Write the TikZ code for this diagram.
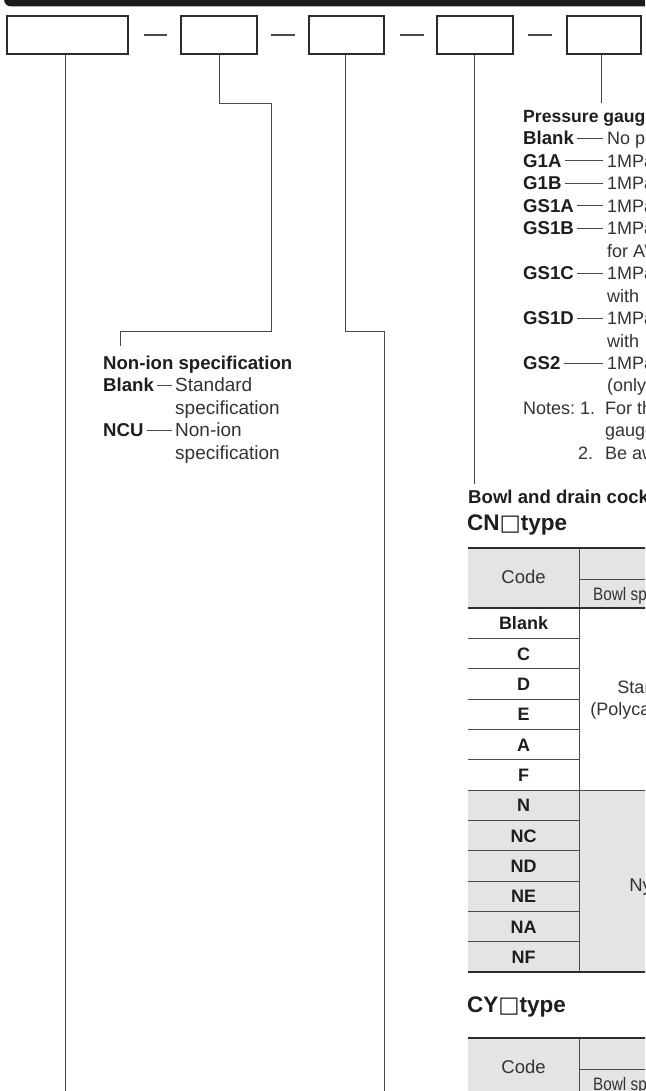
\documentclass[tikz,border=0pt]{standalone}
\usepackage{fontspec}
\setmainfont{Liberation Sans}
\newfontfamily\condf[FakeStretch=0.85]{Liberation Sans}
\newfontfamily\symf{DejaVu Sans}
\newcommand\myfs{\fontsize{18}{22}\selectfont}
\newcommand\mybf{\fontsize{18.6}{22}\selectfont}
\newcommand\mynf{\fontsize{19}{22}\selectfont}
\newcommand\mybig{\fontsize{22.5}{26}\selectfont}
\definecolor{ink}{HTML}{2C2C2C}
\definecolor{ink2}{HTML}{4A4A4A}
\definecolor{txt}{HTML}{1E1E1E}
\definecolor{txt2}{HTML}{333333}
\definecolor{shadec}{HTML}{E4E4E4}
\definecolor{barc}{HTML}{1C1C1C}
\begin{document}
\begin{tikzpicture}[x=1pt,y=-1pt,
  boxst/.style={draw=ink,line width=1.3pt,inner sep=0pt},
  conn/.style={draw=ink2,line width=1pt},
  dashl/.style={draw=ink2,line width=0.9pt},
  lbl/.style={font=\bfseries\mybf,text=txt,inner sep=0pt,anchor=west,text height=13pt,text depth=0pt},
  dsc/.style={font=\myfs,text=txt2,inner sep=0pt,anchor=west,text height=13pt,text depth=0pt},
  dsk/.style={font=\condf\myfs,text=txt2,inner sep=0pt,anchor=west,text height=13pt,text depth=0pt},
  dsn/.style={font=\mynf,text=txt2,inner sep=0pt,anchor=west,text height=13pt,text depth=0pt},
  code/.style={font=\bfseries\myfs,text=txt,inner sep=0pt,anchor=center,text height=13pt,text depth=0pt},
  hdr/.style={font=\fontsize{18.5}{22}\selectfont,text=txt2,inner sep=0pt,anchor=center,text height=13pt,text depth=0pt},
  thickrule/.style={draw=ink,line width=2.4pt},
  thinrule/.style={draw=ink2,line width=0.9pt}]
\useasboundingbox (0,0) rectangle (645,1091);
\begin{scope}
\clip (0,0) rectangle (645,1091);
\fill[white] (0,0) rectangle (645,1091);
% top bar
\fill[barc,rounded corners=7pt] (4,-20) rectangle (700,6.5);

% boxes
\node[boxst,minimum width=121pt,minimum height=38pt] (b1) at (67.5,35) {};
\node[boxst,minimum width=76pt,minimum height=38pt] (b2) at (219,35) {};
\node[boxst,minimum width=75pt,minimum height=38pt] (b3) at (346.5,35) {};
\node[boxst,minimum width=76pt,minimum height=38pt] (b4) at (475,35) {};
\node[boxst,minimum width=74pt,minimum height=38pt] (b5) at (604,35) {};

% dashes between boxes
\draw[draw=ink2,line width=1.3pt] ([xshift=15pt]b1.east) -- ([xshift=-13pt]b2.west);
\draw[draw=ink2,line width=1.3pt] ([xshift=13pt]b2.east) -- ([xshift=-13pt]b3.west);
\draw[draw=ink2,line width=1.3pt] ([xshift=15pt]b3.east) -- ([xshift=-12pt]b4.west);
\draw[draw=ink2,line width=1.3pt] ([xshift=14pt]b4.east) -- ([xshift=-14pt]b5.west);

% connector end points
\coordinate (e1) at (65,1100);
\coordinate (e2) at (120,346);
\coordinate (e3) at (384,1100);
\coordinate (e4) at (474,484);
\coordinate (e5) at (601,103);

\draw[conn] (b1.south -| e1) -- (e1);
\draw[conn] (b2.south) -- (219,104) -- (271,104) -- (271,331) -- (120,331) -- (e2);
\draw[conn] (b3.south -| 345,0) -- (345,331) -- (384,331) -- (e3);
\draw[conn] (b4.south -| e4) -- (e4);
\draw[conn] (b5.south -| e5) -- (e5);

% Non-ion specification
\node[lbl] (nh) at (103,363) {Non-ion specification};
\node[lbl] (n1) at (103,385.4) {Blank};
\node[dsn] (m1) at (175,385.4) {Standard};
\node[dsn] (m1b) at (175,407.85) {specification};
\node[lbl] (n2) at (103,430.3) {NCU};
\node[dsn] (m2) at (175,430.3) {Non-ion};
\node[dsn] (m2b) at (175,452.75) {specification};
\draw[dashl] ([xshift=3pt]n1.east) -- ([xshift=-3pt]m1.west);
\draw[dashl] ([xshift=3pt]n2.east) -- ([xshift=-3pt]m2.west);

% Pressure gauge
\node[lbl,font=\bfseries\fontsize{17.6}{22}\selectfont] (pg) at (523,116) {Pressure gauge};
\node[lbl] (p1) at (523,138.45) {Blank};
\node[dsc] (q1) at (607,138.45) {No pressure gauge};
\node[lbl] (p2) at (523,160.9) {G1A};
\node[dsc] (q2) at (607,160.9) {1MPa pressure gauge};
\node[lbl] (p3) at (523,183.35) {G1B};
\node[dsc] (q3) at (607,183.35) {1MPa pressure gauge};
\node[lbl] (p4) at (523,205.8) {GS1A};
\node[dsc] (q4) at (607,205.8) {1MPa pressure gauge};
\node[lbl] (p5) at (523,228.25) {GS1B};
\node[dsc] (q5) at (607,228.25) {1MPa pressure gauge};
\node[dsc] (q5b) at (607,250.7) {for AW};
\node[lbl] (p6) at (523,273.15) {GS1C};
\node[dsc] (q6) at (607,273.15) {1MPa pressure gauge};
\node[dsc] (q6b) at (607,295.6) {with};
\node[lbl] (p7) at (523,318.05) {GS1D};
\node[dsc] (q7) at (607,318.05) {1MPa pressure gauge};
\node[dsc] (q7b) at (607,340.5) {with};
\node[lbl] (p8) at (523,362.95) {GS2};
\node[dsc] (q8) at (607,362.95) {1MPa pressure gauge};
\node[dsc] (q8b) at (607,385.4) {(only};
\foreach \i in {1,...,8}{\draw[dashl] ([xshift=3pt]p\i.east) -- ([xshift=-4pt]q\i.west);}
\node[dsc] (nt) at (523,407.85) {Notes:};
\node[dsc] (nt1) at (580,407.85) {1.};
\node[dsc] (nt1a) at (605,407.85) {For the};
\node[dsc] (nt1b) at (605,430.3) {gauge};
\node[dsc] (nt2) at (578,452.75) {2.};
\node[dsc] (nt2a) at (605,452.75) {Be aware};

% Bowl and drain cock
\node[lbl] (bd) at (468,497) {Bowl and drain cock};
\node[font=\bfseries\mybig,text=txt,inner sep=0pt,anchor=west] (cn) at (467,525) {CN{\symf\mdseries □}type};

% CN table
\fill[shadec] (468,548) rectangle (700,608);
\fill[shadec] (468,790) rectangle (700,972);
\draw[thinrule] (579,548) -- (579,972);
\draw[thinrule] (579,579) -- (700,579);
\foreach \k in {1,...,11}{
  \pgfmathsetmacro\yy{608+30.333*\k}
  \ifnum\k=6 \draw[thinrule] (468,\yy) -- (700,\yy);
  \else \draw[thinrule] (468,\yy) -- (579,\yy); \fi
}
\draw[thickrule] (468,548) -- (700,548);
\draw[thickrule] (468,608) -- (700,608);
\draw[thickrule] (468,972) -- (700,972);
\node[hdr] (ch) at (523.5,577) {Code};
\node[dsk] (cs) at (593,593.5) {Bowl specification};
\node[code] (r1) at (523.5,623.2) {Blank};
\node[code] (r2) at (523.5,653.5) {C};
\node[code] (r3) at (523.5,683.8) {D};
\node[code] (r4) at (523.5,714.2) {E};
\node[code] (r5) at (523.5,744.5) {A};
\node[code] (r6) at (523.5,774.8) {F};
\node[code] (r7) at (523.5,805.2) {N};
\node[code] (r8) at (523.5,835.5) {NC};
\node[code] (r9) at (523.5,865.8) {ND};
\node[code] (r10) at (523.5,896.2) {NE};
\node[code] (r11) at (523.5,926.5) {NA};
\node[code] (r12) at (523.5,956.8) {NF};
\node[font=\myfs,text=txt2,align=center,inner sep=0pt] (st) at (654,700) {Standard\\(Polycarbonate)};
\node[hdr] (ny) at (653,885) {Nylon};

% CY table
\node[font=\bfseries\mybig,text=txt,inner sep=0pt,anchor=west] (cy) at (467,1007) {CY{\symf\mdseries □}type};
\fill[shadec] (468,1038) rectangle (700,1100);
\draw[thinrule] (579,1038) -- (579,1100);
\draw[thinrule] (579,1069) -- (700,1069);
\draw[thickrule] (468,1038) -- (700,1038);
\node[hdr] (ch2) at (523.5,1067) {Code};
\node[dsk] (cs2) at (593,1084) {Bowl specification};
\end{scope}
\end{tikzpicture}
\end{document}
